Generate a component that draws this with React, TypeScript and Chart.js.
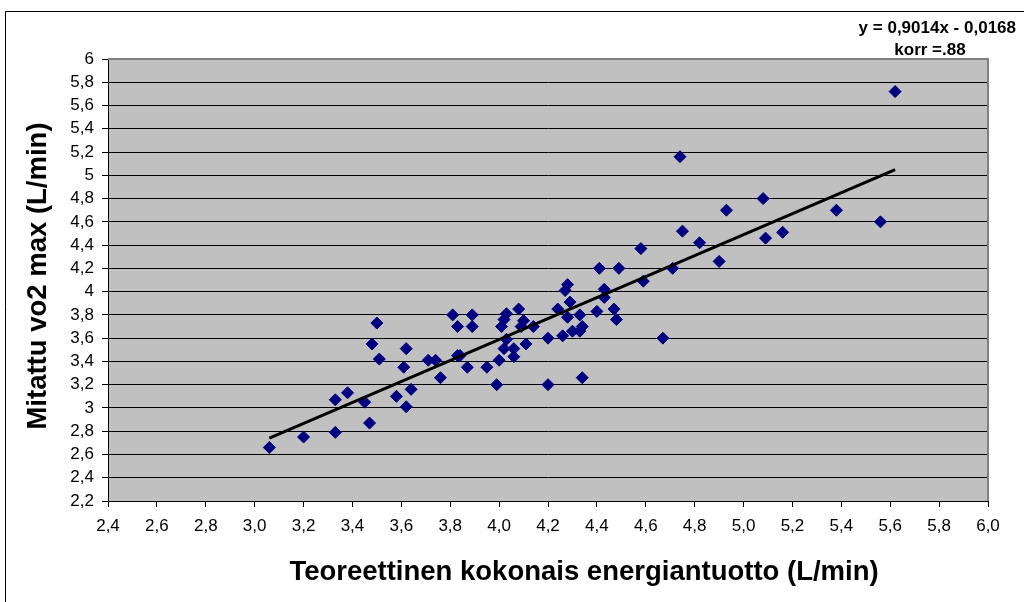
import React, { useEffect, useRef } from "react";
import { Chart, registerables } from "chart.js";

Chart.register(...registerables);

const xValues = [
  3.06, 3.2, 3.33, 3.33, 3.38, 3.45, 3.47, 3.48, 3.5, 3.51, 3.58, 3.61, 3.62, 3.62, 3.64,
  3.71, 3.74, 3.76, 3.81, 3.83, 3.83, 3.84, 3.87, 3.89, 3.89, 3.95, 3.99, 4.0, 4.01, 4.02,
  4.02, 4.03, 4.03, 4.06, 4.06, 4.08, 4.09, 4.1, 4.11, 4.14, 4.2, 4.2, 4.24, 4.26, 4.27,
  4.28, 4.28, 4.29, 4.3, 4.33, 4.33, 4.34, 4.34, 4.4, 4.41, 4.43, 4.43, 4.47, 4.48, 4.49,
  4.58, 4.59, 4.67, 4.71, 4.74, 4.75, 4.82, 4.9, 4.93, 5.08, 5.09, 5.16, 5.38, 5.56, 5.62,
];
const yValues = [
  2.66, 2.75, 2.79, 3.07, 3.13, 3.05, 2.87, 3.55, 3.73, 3.42, 3.1, 3.35, 3.51, 3.01, 3.16,
  3.41, 3.41, 3.26, 3.8, 3.7, 3.45, 3.45, 3.35, 3.8, 3.7, 3.35, 3.2, 3.41, 3.7, 3.76,
  3.51, 3.81, 3.59, 3.51, 3.44, 3.85, 3.7, 3.75, 3.55, 3.7, 3.6, 3.2, 3.85, 3.62, 4.01,
  4.06, 3.78, 3.91, 3.66, 3.8, 3.66, 3.7, 3.26, 3.83, 4.2, 3.95, 4.02, 3.85, 3.76, 4.2,
  4.37, 4.09, 3.6, 4.2, 5.16, 4.52, 4.42, 4.26, 4.7, 4.8, 4.46, 4.51, 4.7, 4.6, 5.72,
];

const trendSlope = 0.9014;
const trendIntercept = -0.0168;
const trendRange = [3.06, 5.62];

const xTickLabels = [
  "2,4", "2,6", "2,8", "3,0", "3,2", "3,4", "3,6", "3,8", "4,0", "4,2",
  "4,4", "4,6", "4,8", "5,0", "5,2", "5,4", "5,6", "5,8", "6,0",
];
const yTickLabels = [
  "2,2", "2,4", "2,6", "2,8", "3", "3,2", "3,4", "3,6", "3,8", "4",
  "4,2", "4,4", "4,6", "4,8", "5", "5,2", "5,4", "5,6", "5,8", "6",
];

const xTitle = "Teoreettinen kokonais energiantuotto (L/min)";
const yTitle = "Mitattu vo2 max (L/min)";
const equationText = "y = 0,9014x - 0,0168";
const corrText = "korr =.88";

const FONT = '"Liberation Sans", Arial, sans-serif';

const decorPlugin = {
  id: "decor",
  beforeDraw(chart: any) {
    const { ctx, chartArea: a } = chart;
    ctx.save();
    ctx.fillStyle = "#C0C0C0";
    ctx.fillRect(a.left, a.top, a.right - a.left, a.bottom - a.top);
    ctx.restore();
  },
  beforeDatasetsDraw(chart: any) {
    const { ctx, chartArea: a } = chart;
    ctx.save();
    ctx.strokeStyle = "#808080";
    ctx.lineWidth = 2;
    ctx.beginPath();
    ctx.moveTo(a.left, a.top);
    ctx.lineTo(a.right, a.top);
    ctx.lineTo(a.right, a.bottom);
    ctx.stroke();
    ctx.restore();
  },
  afterDraw(chart: any) {
    const { ctx } = chart;
    ctx.save();
    ctx.strokeStyle = "#000";
    ctx.lineWidth = 1;
    ctx.beginPath();
    ctx.moveTo(5.5, 602);
    ctx.lineTo(5.5, 11.5);
    ctx.lineTo(1024, 11.5);
    ctx.stroke();

    ctx.fillStyle = "#000";
    ctx.textBaseline = "middle";
    ctx.font = `bold 17px ${FONT}`;
    ctx.textAlign = "right";
    ctx.fillText(equationText, 1016, 28);
    ctx.textAlign = "center";
    ctx.fillText(corrText, 930, 50);

    ctx.font = `bold 27.5px ${FONT}`;
    ctx.textAlign = "center";
    ctx.fillText(xTitle, 584, 572);

    ctx.translate(38, 276);
    ctx.rotate(-Math.PI / 2);
    ctx.fillText(yTitle, 0, 0);
    ctx.restore();
  },
};

export default function App() {
  const canvasRef = useRef<HTMLCanvasElement | null>(null);

  useEffect(() => {
    if (!canvasRef.current) return;
    const points = xValues.map((x, i) => ({ x, y: yValues[i] }));
    const trend = trendRange.map((x) => ({ x, y: trendSlope * x + trendIntercept }));

    const chart = new Chart(canvasRef.current, {
      type: "scatter",
      data: {
        datasets: [
          {
            label: "data",
            data: points,
            pointStyle: "rectRot",
            pointRadius: 6,
            pointBackgroundColor: "#000080",
            pointBorderColor: "#000080",
            pointBorderWidth: 1,
            order: 2,
          },
          {
            label: "trend",
            data: trend,
            showLine: true,
            borderColor: "#000",
            borderWidth: 3,
            pointRadius: 0,
            order: 1,
          } as any,
        ],
      },
      options: {
        animation: false,
        responsive: false,
        devicePixelRatio: 1,
        layout: { padding: { top: 59, right: 36, left: 0, bottom: 0 } },
        plugins: {
          legend: { display: false },
          tooltip: { enabled: false },
        },
        scales: {
          x: {
            type: "linear",
            min: 2.4,
            max: 6.0,
            afterFit: (s: any) => {
              s.height = 101;
            },
            ticks: {
              stepSize: 0.2,
              autoSkip: false,
              maxRotation: 0,
              padding: 9,
              color: "#000",
              font: { family: FONT, size: 17 },
              callback: (v: any) => xTickLabels[Math.round((Number(v) - 2.4) / 0.2)] ?? "",
            },
            grid: {
              drawOnChartArea: false,
              drawTicks: true,
              tickLength: 6,
              color: "#000",
            },
            border: { display: true, color: "#000", width: 1 },
          },
          y: {
            type: "linear",
            min: 2.2,
            max: 6.0,
            afterFit: (s: any) => {
              s.width = 108;
            },
            ticks: {
              stepSize: 0.2,
              autoSkip: false,
              padding: 8,
              color: "#000",
              font: { family: FONT, size: 17 },
              callback: (v: any) => yTickLabels[Math.round((Number(v) - 2.2) / 0.2)] ?? "",
            },
            grid: {
              drawTicks: true,
              tickLength: 6,
              color: (c: any) =>
                c.tick && Math.abs(c.tick.value - 6) < 1e-6 ? "#808080" : "#000",
              tickColor: "#000",
            },
            border: { display: true, color: "#000", width: 1 },
          },
        },
      },
      plugins: [decorPlugin],
    });
    return () => chart.destroy();
  }, []);

  return (
    <div style={{ position: "absolute", left: 0, top: 0, width: 1024, height: 602, background: "#fff" }}>
      <canvas ref={canvasRef} width={1024} height={602} style={{ display: "block" }} />
    </div>
  );
}
